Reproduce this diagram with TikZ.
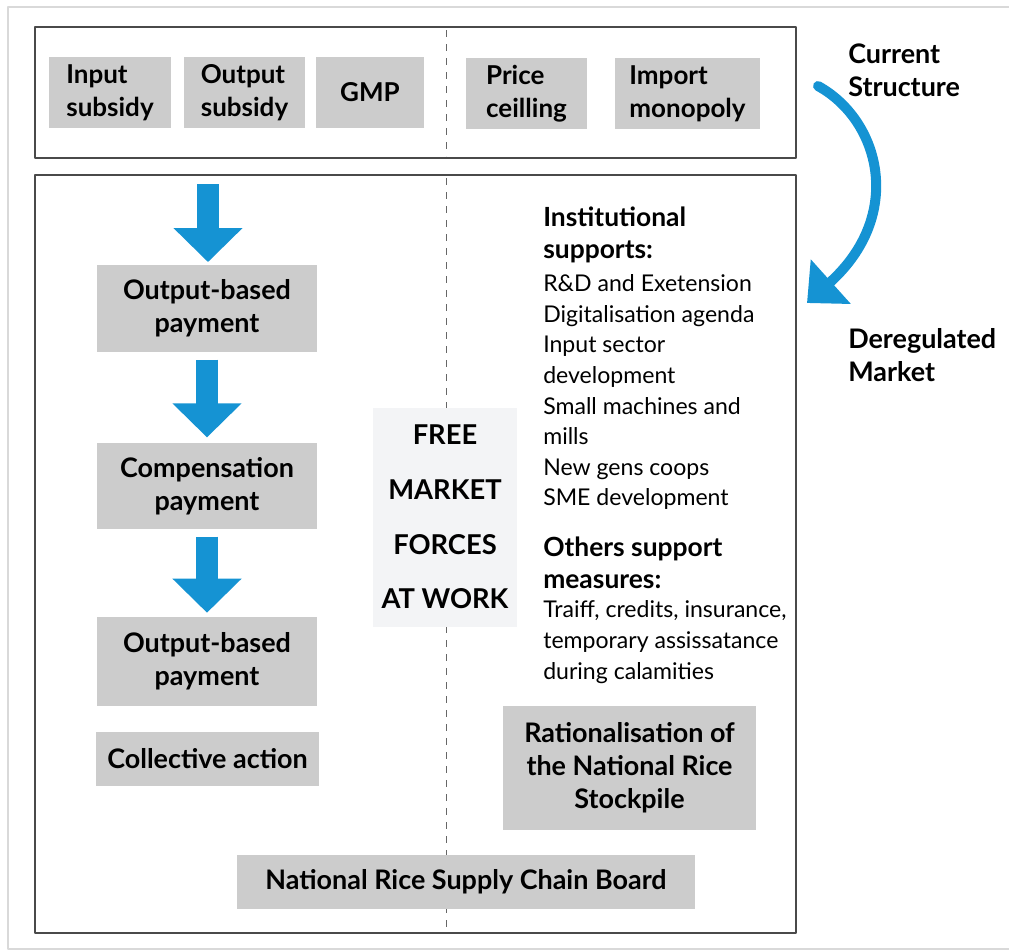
\documentclass[tikz,border=0pt]{standalone}
\usepackage{fontspec}
\setmainfont{Lato}
\usetikzlibrary{arrows.meta}
\definecolor{boxgray}{HTML}{CCCCCC}
\definecolor{arrowblue}{HTML}{1593D3}
\definecolor{framegray}{HTML}{4A4A4A}
\definecolor{paleback}{HTML}{F3F4F6}
\newdimen\pu \pu=0.75pt
\tikzset{
  topbox/.style={fill=boxgray,inner sep=0pt,align=left,minimum height=71\pu,font=\bfseries\fontsize{19.5}{24.75}\selectfont},
  stepbox/.style={fill=boxgray,inner sep=0pt,align=center,minimum width=220\pu,font=\bfseries\fontsize{20.2}{24.75}\selectfont},
  rline/.style={anchor=base west,inner sep=0pt,font=\fontsize{17.3}{20}\selectfont},
  rhead/.style={anchor=base west,inner sep=0pt,font=\bfseries\fontsize{19.8}{23}\selectfont},
  sidelabel/.style={anchor=north west,inner sep=0pt,align=left,font=\bfseries\fontsize{20.2}{24.75}\selectfont},
  panel/.style={draw=framegray,line width=1.3\pu},
  divider/.style={draw=black!60,line width=1\pu,dash pattern=on 5.25pt off 5.25pt},
  blockarrow/.style={draw=arrowblue,line width=16.5pt,-{Triangle[length=25.5pt,width=50.25pt]}},
}
\begin{document}
\begin{tikzpicture}[x=0.75pt,y=-0.75pt,line join=round]
\useasboundingbox (0,0) rectangle (1009,951);
\draw[black!15,line width=1.5\pu] (1009,7) -- (8,7) -- (8,949) -- (1009,949);
% panels and the dashed split
\draw[panel] (35,27) rectangle (796,158);
\draw[panel] (35,175) rectangle (796,933);
\draw[divider] (446,30) -- (446,156);
\draw[divider] (446,178) -- (446,931);
% current instruments
\node[topbox,minimum width=122\pu] (insub) at (110,92.5) {Input\\subsidy};
\node[topbox,minimum width=121\pu] (outsub) at (244.5,92.5) {Output\\subsidy};
\node[topbox,minimum width=108\pu] (gmp) at (370,92.5) {GMP};
\node[topbox,minimum width=121\pu] (price) at (526.5,93.5) {Price\\ceilling};
\node[topbox,minimum width=145\pu] (import) at (687.5,93.5) {Import\\monopoly};
% left column
\node[stepbox,minimum height=87\pu] (obpay) at (207,308.5) {Output-based\\payment};
\node[stepbox,minimum height=86\pu] (comp) at (207,486) {Compensation\\payment};
\node[stepbox,minimum height=89\pu] (obpay2) at (207,661.5) {Output-based\\payment};
\node[stepbox,minimum width=223\pu,minimum height=54\pu] (coll) at (207.5,759) {Collective action};
\coordinate (in) at (208,184);
\draw[blockarrow,shorten >=2pt] (in) -- (in |- obpay.north);
\draw[blockarrow,shorten <=5.5pt,shorten >=4pt] (obpay.south) -- (obpay.south |- comp.north);
\draw[blockarrow,shorten <=5.5pt,shorten >=3pt] (comp.south) -- (comp.south |- obpay2.north);
% middle
\node[fill=paleback,inner sep=0pt,minimum width=144\pu,minimum height=219\pu,align=center,font=\bfseries\fontsize{20.5}{41}\selectfont] (free) at (445,517) {FREE\\MARKET\\FORCES\\AT WORK};
% right column
\node[rhead] (insth1) at (543,226.7) {Institutional};
\node[rhead] (insth2) at (543,258) {supports:};
\foreach \t [count=\i from 0] in {R\&D and Exetension,Digitalisation agenda,Input sector,development,Small machines and,mills,New gens coops,SME development}
  \node[rline] (inst\i) at (543,291.7+30.6*\i) {\t};
\node[rhead] (othh1) at (543,556) {Others support};
\node[rhead] (othh2) at (543,588) {measures:};
\foreach \t [count=\i from 0] in {{Traiff, credits, insurance,},temporary assissatance,during calamities}
  \node[rline] (oth\i) at (543,617.5+31*\i) {\t};
\node[stepbox,minimum width=253\pu,minimum height=124\pu] (ratio) at (629.5,768) {Rationalisation of\\the National Rice\\Stockpile};
\node[stepbox,minimum width=458\pu,minimum height=54\pu] (board) at (466,882) {National Rice Supply Chain Board};
% shift to deregulated market
\node[sidelabel] (cur) at (848,43.5) {Current\\Structure};
\node[sidelabel] (dereg) at (848,328.5) {Deregulated\\Market};
\coordinate (bend0) at (818,86);
\coordinate (bend1) at (807,303);
\draw[arrowblue,line width=7.5pt,line cap=round,-{Triangle[length=24pt,width=43.5pt]}] (bend0) .. controls (880,120) and (905,215) .. (bend1);
\end{tikzpicture}
\end{document}
